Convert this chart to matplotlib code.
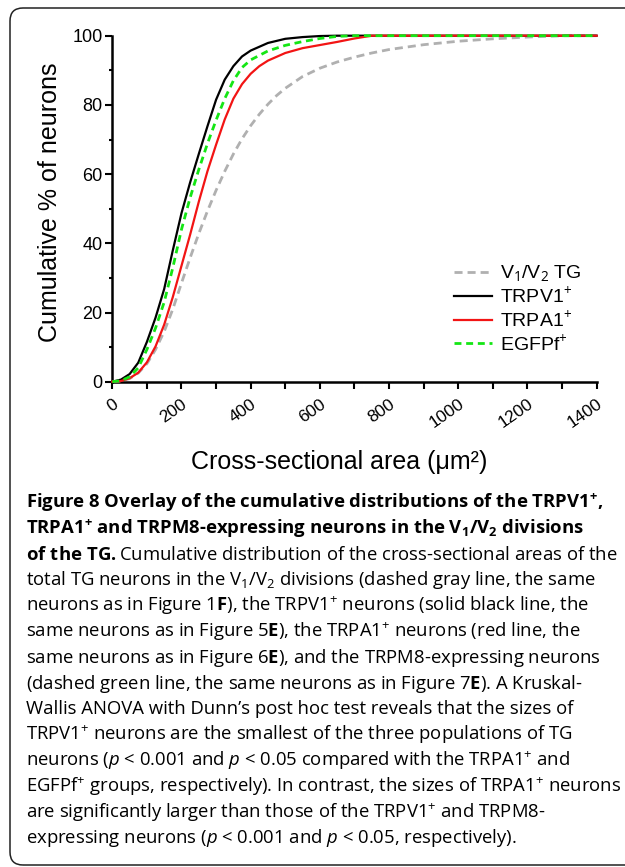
import matplotlib
matplotlib.use("Agg")
import matplotlib.pyplot as plt
from matplotlib.patches import FancyBboxPatch
from matplotlib.ticker import FixedLocator
from matplotlib.transforms import ScaledTranslation

# ---------------- data ----------------
tg_x = [0, 25, 50, 75, 100, 125, 150, 175, 200, 225, 250, 275, 300, 325, 350, 375,
        400, 425, 450, 475, 500, 550, 600, 650, 700, 750, 800, 900, 1000, 1100, 1200,
        1300, 1400]
tg_y = [0, 0.2, 0.9, 2.5, 5.2, 9.3, 14.5, 21, 28.5, 35.8, 42.8, 49.3, 55.3, 60.8,
        65.8, 70.2, 74, 77.3, 80.2, 82.7, 84.8, 88.2, 90.6, 92.4, 93.8, 95, 96,
        97.4, 98.4, 99.1, 99.6, 100, 100]

trpv1_x = [0, 25, 50, 75, 100, 125, 150, 175, 200, 225, 250, 275, 300, 325, 350,
           375, 400, 450, 500, 550, 600, 650, 1400]
trpv1_y = [0, 0.6, 2.2, 5.5, 11.5, 18.5, 26.8, 38, 48.7, 57.6, 65.8, 73.8, 81.5,
           87.3, 91.2, 94, 95.7, 97.9, 99.1, 99.6, 99.9, 100, 100]

trpa1_x = [0, 25, 50, 75, 100, 125, 150, 175, 200, 225, 250, 275, 300, 325, 350,
           375, 400, 425, 450, 500, 550, 600, 650, 700, 750, 1400]
trpa1_y = [0, 0.2, 1, 2.6, 5.6, 10.2, 16.5, 24.5, 33.5, 42.5, 52, 60.8, 68.5,
           75.8, 81.8, 86, 89, 91.2, 92.8, 95, 96.4, 97.3, 98.2, 99.2, 100, 100]

egfp_x = [0, 25, 50, 75, 100, 125, 150, 175, 200, 225, 250, 275, 300, 325, 350,
          375, 400, 450, 500, 550, 600, 650, 700, 1400]
egfp_y = [0, 0.3, 1.4, 4, 9.3, 15.5, 23, 33, 44, 53.2, 61.3, 68.8, 75.6, 81.8,
          87, 90.8, 93, 95.6, 97.2, 98.3, 99.2, 99.8, 100, 100]

series_labels = ["V$_1$/V$_2$ TG", "TRPV1$^{+}$", "TRPA1$^{+}$", "EGFPf$^{+}$"]
x_ticks = [0, 200, 400, 600, 800, 1000, 1200, 1400]
x_minor = [100, 300, 500, 700, 900, 1100, 1300]
y_ticks = [0, 20, 40, 60, 80, 100]
y_minor = [10, 30, 50, 70, 90]
x_label = "Cross-sectional area (μm²)"
y_label = "Cumulative % of neurons"

caption = [
    (r"Figure 8 Overlay of the cumulative distributions of the TRPV1$^{\mathbf{+}}$,", "bold"),
    (r"TRPA1$^{\mathbf{+}}$ and TRPM8-expressing neurons in the V$_{\mathbf{1}}$/V$_{\mathbf{2}}$ divisions", "bold"),
    (r"$\mathbf{of\ the\ TG.}$Cumulative distribution of the cross-sectional areas of the", "normal"),
    (r"total TG neurons in the V$_1$/V$_2$ divisions (dashed gray line, the same", "normal"),
    (r"neurons as in Figure 1$\mathbf{F}$), the TRPV1$^{+}$ neurons (solid black line, the", "normal"),
    (r"same neurons as in Figure 5$\mathbf{E}$), the TRPA1$^{+}$ neurons (red line, the", "normal"),
    (r"same neurons as in Figure 6$\mathbf{E}$), and the TRPM8-expressing neurons", "normal"),
    (r"(dashed green line, the same neurons as in Figure 7$\mathbf{E}$). A Kruskal-", "normal"),
    ("Wallis ANOVA with Dunn’s post hoc test reveals that the sizes of", "normal"),
    (r"TRPV1$^{+}$ neurons are the smallest of the three populations of TG", "normal"),
    (r"neurons ($\mathit{p}$ < 0.001 and $\mathit{p}$ < 0.05 compared with the TRPA1$^{+}$ and", "normal"),
    (r"EGFPf$^{+}$ groups, respectively). In contrast, the sizes of TRPA1$^{+}$ neurons", "normal"),
    (r"are significantly larger than those of the TRPV1$^{+}$ and TRPM8-", "normal"),
    (r"expressing neurons ($\mathit{p}$ < 0.001 and $\mathit{p}$ < 0.05, respectively).", "normal"),
]

# ---------------- style ----------------
CAP_FONT = "Open Sans"
plt.rcParams["font.family"] = ["Liberation Sans", "DejaVu Sans"]
plt.rcParams["mathtext.fontset"] = "custom"
plt.rcParams["mathtext.rm"] = CAP_FONT
plt.rcParams["mathtext.it"] = CAP_FONT + ":italic"
plt.rcParams["mathtext.bf"] = CAP_FONT + ":bold"
plt.rcParams["lines.scale_dashes"] = False

W, H = 625, 867
fig = plt.figure(figsize=(W / 100, H / 100), dpi=100)

x0, x1 = 112.3, 596.6
y100, y0 = 35.7, 381.7
ax = fig.add_axes([x0 / W, 1 - y0 / H, (x1 - x0) / W, (y0 - y100) / H])

ax.plot(tg_x, tg_y, color="#b0b0b0", lw=2.0, dashes=(5.8, 3.6), clip_on=False,
        label=series_labels[0], zorder=2)
ax.plot(trpv1_x, trpv1_y, color="black", lw=1.6, clip_on=False,
        label=series_labels[1], zorder=3)
ax.plot(trpa1_x, trpa1_y, color="#f21414", lw=1.6, clip_on=False,
        label=series_labels[2], zorder=4)
ax.plot(egfp_x, egfp_y, color="#14e614", lw=2.0, dashes=(5.0, 3.4), clip_on=False,
        label=series_labels[3], zorder=5)

ax.set_xlim(0, 1400)
ax.set_ylim(0, 100)
for s in ("top", "right"):
    ax.spines[s].set_visible(False)
for s in ("left", "bottom"):
    ax.spines[s].set_linewidth(1.8)
    ax.spines[s].set_zorder(1)

ax.xaxis.set_major_locator(FixedLocator(x_ticks))
ax.xaxis.set_minor_locator(FixedLocator(x_minor))
ax.yaxis.set_major_locator(FixedLocator(y_ticks))
ax.yaxis.set_minor_locator(FixedLocator(y_minor))
ax.set_xticklabels([str(v) for v in x_ticks], rotation=35, ha="right", va="center",
                   rotation_mode="anchor", fontsize=12.5)
ax.set_yticklabels([str(v) for v in y_ticks], fontsize=13)
ax.tick_params(axis="x", which="both", length=5, width=1.5, pad=10, direction="out")
ax.tick_params(axis="y", which="major", length=5, width=1.5, pad=2, direction="out")
ax.tick_params(axis="y", which="minor", length=2.5, width=1.5, direction="out")
for lab in ax.get_xticklabels():
    lab.set_transform(lab.get_transform() + ScaledTranslation(0.04, 0, fig.dpi_scale_trans))

fig.text(339.5 / W, 1 - 461.7 / H, x_label, ha="center", va="center", fontsize=18)
fig.text(50 / W, 1 - 202 / H, y_label, ha="center", va="center", rotation=90, fontsize=18)

leg = ax.legend(loc="center left", bbox_to_anchor=((454 - x0) / (x1 - x0), (y0 - 308.8) / (y0 - y100)),
                frameon=False, fontsize=14, handlelength=1.95, handletextpad=0.4,
                labelspacing=0.12, borderpad=0, borderaxespad=0)

# ---------------- caption ----------------
left = 25.7 / W
texts = []
for i, (line, weight) in enumerate(caption):
    t = fig.text(left, 1 - (508 + i * 25.8) / H, line, ha="left", va="baseline",
                 fontsize=13, family=[CAP_FONT, "DejaVu Sans"], fontweight=weight)
    texts.append(t)

# fit the font size so that no line runs past the right edge used in the reference
renderer = fig.canvas.get_renderer()
scale = min((619 - 25.7) / t.get_window_extent(renderer).width for t in texts)
for t in texts:
    t.set_fontsize(13 * scale)

# rounded frame (only left/top/bottom-left visible, extends past the right edge)
frame = FancyBboxPatch((0.10, 0.02), 6.6, 8.57, boxstyle="round,pad=0,rounding_size=0.13",
                       transform=fig.dpi_scale_trans, fill=False, lw=1.1, ec="#222222")
fig.patches.append(frame)

fig.savefig("out.png", dpi=100)
